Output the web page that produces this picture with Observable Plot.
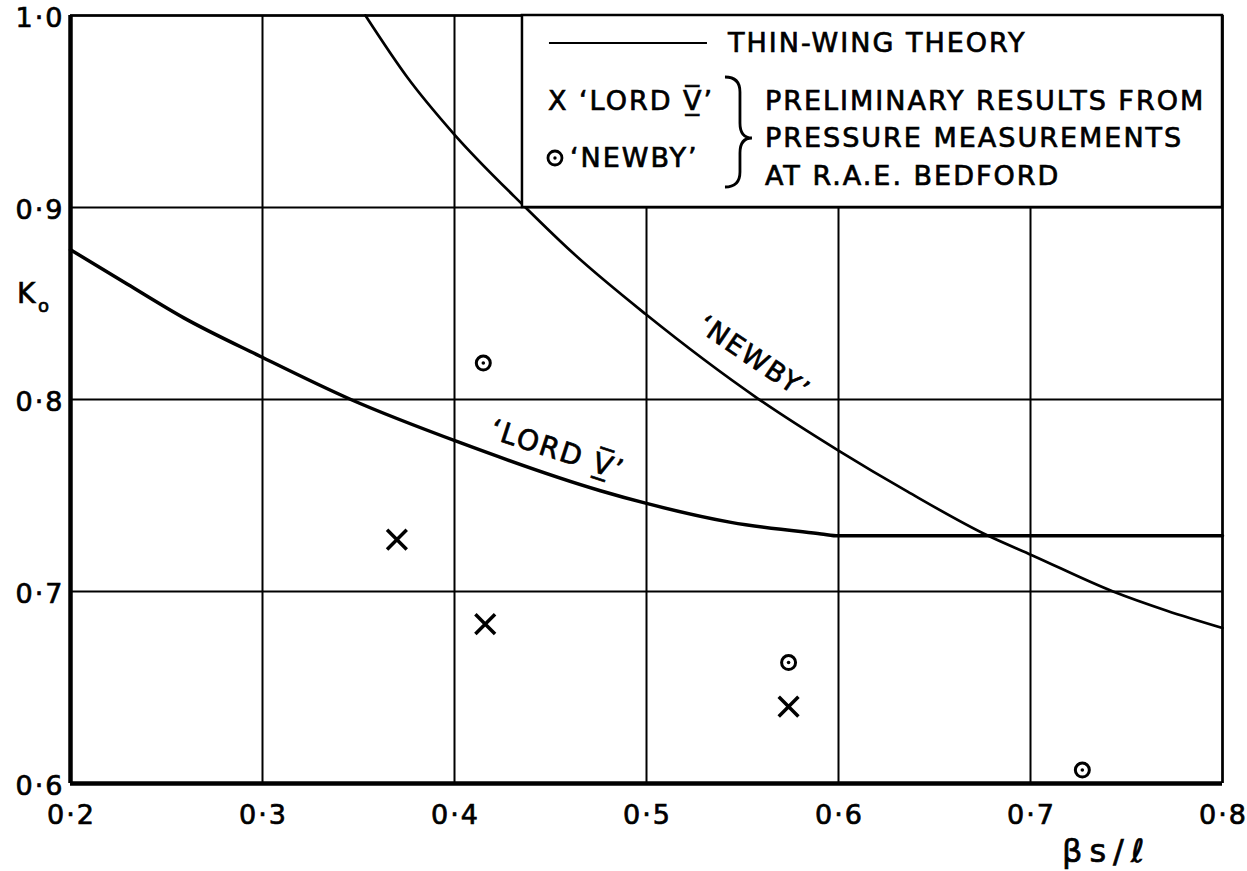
<!DOCTYPE html>
<html>
<head>
<meta charset="utf-8">
<script src="https://cdn.jsdelivr.net/npm/d3@7"></script>
<script src="https://cdn.jsdelivr.net/npm/@observablehq/plot@0.6"></script>
<style>
  html, body { margin: 0; padding: 0; background: #fff; }
  svg { display: block; }
</style>
</head>
<body>
<div id="chart"></div>
<script>
// Axis ticks
const xTicks = [0.2, 0.3, 0.4, 0.5, 0.6, 0.7, 0.8];
const yTicks = [0.6, 0.7, 0.8, 0.9, 1.0];

// Thin-wing theory, 'LORD V'
const lordCurveX = [0.2, 0.2297, 0.259, 0.299, 0.346, 0.403, 0.476, 0.4995, 0.544, 0.591, 0.6, 0.7, 0.8];
const lordCurveK = [0.878, 0.860, 0.8425, 0.8224, 0.800, 0.7775, 0.7525, 0.746, 0.736, 0.730, 0.729, 0.729, 0.729];

// Thin-wing theory, 'NEWBY'
const newbyCurveX = [0.3536, 0.3755, 0.3995, 0.437, 0.462, 0.4995, 0.558, 0.6, 0.636, 0.678, 0.701, 0.743, 0.771, 0.8];
const newbyCurveK = [1.0, 0.9677, 0.9385, 0.900, 0.876, 0.8445, 0.8005, 0.7734, 0.752, 0.729, 0.7188, 0.700, 0.690, 0.681];

// Preliminary pressure-measurement results, R.A.E. Bedford
const lordPtX = [0.370, 0.416, 0.574];
const lordPtK = [0.727, 0.683, 0.640];
const newbyPtX = [0.415, 0.574, 0.727];
const newbyPtK = [0.819, 0.663, 0.607];

const zip = (xs, ks) => xs.map((x, i) => ({x, k: ks[i]}));
const fmt = d => d.toFixed(1).replace(".", "\u00B7");

const FONT = "DejaVu Sans";
const INK = "#000";

const lordCurve = zip(lordCurveX, lordCurveK);
const newbyCurve = zip(newbyCurveX, newbyCurveK);
const lordPts = zip(lordPtX, lordPtK);
const newbyPts = zip(newbyPtX, newbyPtK);

const plot = Plot.plot({
  width: 1247,
  height: 871,
  marginLeft: 70,
  marginRight: 25,
  marginTop: 15,
  marginBottom: 88,
  style: {fontFamily: FONT, background: "#fff", color: INK},
  x: {domain: [0.2, 0.8]},
  y: {domain: [0.6, 1.0]},
  marks: [
    Plot.gridX(xTicks, {stroke: INK, strokeOpacity: 1, strokeWidth: 2}),
    Plot.gridY(yTicks, {stroke: INK, strokeOpacity: 1, strokeWidth: 2}),
    Plot.axisX(xTicks, {tickSize: 0, tickPadding: 21, fontSize: 27, tickFormat: fmt, label: null, dx: 1}),
    Plot.axisY(yTicks, {tickSize: 0, tickPadding: 6, fontSize: 27, tickFormat: fmt, label: null, dy: 3}),
    Plot.line(lordCurve, {x: "x", y: "k", curve: "monotone-x", stroke: INK, strokeWidth: 3.5}),
    Plot.line(newbyCurve, {x: "x", y: "k", curve: "monotone-x", stroke: INK, strokeWidth: 2.7}),
    // plot frame: heavy left and bottom, lighter top and right
    Plot.ruleY([1.0], {stroke: INK, strokeWidth: 2.5}),
    Plot.ruleX([0.8], {stroke: INK, strokeWidth: 2.5}),
    Plot.ruleX([0.2], {stroke: INK, strokeWidth: 4.5}),
    Plot.ruleY([0.6], {stroke: INK, strokeWidth: 4.5}),
    Plot.dot(lordPts, {x: "x", y: "k", symbol: "times", r: 9, stroke: INK, strokeWidth: 3.5}),
    Plot.dot(newbyPts, {x: "x", y: "k", r: 7, stroke: INK, strokeWidth: 3, fill: "#fff"}),
    Plot.dot(newbyPts, {x: "x", y: "k", r: 1.8, fill: INK, stroke: null}),
    Plot.text(["\u2018NEWBY\u2019"], {x: 0.5560, y: 0.8215, text: d => d, rotate: 34, fontSize: 27, fill: INK}),
    Plot.text(["\u2018LORD V\u0332\u0305\u2019"], {x: 0.4536, y: 0.7734, text: d => d, rotate: 18, fontSize: 28, fill: INK})
  ]
});

document.getElementById("chart").appendChild(plot);

const svg = d3.select(plot);
// heavier, pen-like lettering
svg.selectAll('g[aria-label="x-axis tick label"] text, g[aria-label="y-axis tick label"] text')
  .attr("letter-spacing", 2).attr("stroke", INK).attr("stroke-width", 0.7);
svg.selectAll('g[aria-label="text"] text')
  .attr("letter-spacing", 2).attr("stroke", INK).attr("stroke-width", 0.7);

const sx = plot.scale("x");
const sy = plot.scale("y");

// Key box in the upper right corner of the grid
const bx = sx.apply(0.4354), bx2 = sx.apply(0.8);
const by = sy.apply(1.0), by2 = sy.apply(0.9);
const key = svg.append("g")
  .attr("font-family", FONT).attr("fill", INK).attr("text-anchor", "start");
key.append("rect")
  .attr("x", bx).attr("y", by).attr("width", bx2 - bx).attr("height", by2 - by)
  .attr("fill", "#fff").attr("stroke", INK).attr("stroke-width", 2.5);

key.append("line")
  .attr("x1", bx + 27).attr("x2", bx + 185).attr("y1", by + 28).attr("y2", by + 28)
  .attr("stroke", INK).attr("stroke-width", 2);

const keyText = (x, y, s, size = 27) => key.append("text")
  .attr("x", x).attr("y", y).attr("font-size", size).attr("letter-spacing", 2)
  .attr("stroke", INK).attr("stroke-width", 0.7).text(s);

keyText(bx + 206, by + 37, "THIN-WING THEORY");
keyText(bx + 26, by + 95, "X \u2018LORD V\u0332\u0305\u2019");
key.append("circle").attr("cx", bx + 33).attr("cy", by + 143).attr("r", 7)
  .attr("fill", "none").attr("stroke", INK).attr("stroke-width", 2.8);
key.append("circle").attr("cx", bx + 33).attr("cy", by + 143).attr("r", 1.7).attr("fill", INK);
keyText(bx + 48, by + 152, "\u2018NEWBY\u2019");

key.append("path")
  .attr("d", `M${bx + 203},${by + 62} Q${bx + 218},${by + 62} ${bx + 218},${by + 77} L${bx + 218},${by + 108} Q${bx + 218},${by + 123} ${bx + 230},${by + 123} Q${bx + 218},${by + 123} ${bx + 218},${by + 138} L${bx + 218},${by + 157} Q${bx + 218},${by + 172} ${bx + 203},${by + 172}`)
  .attr("fill", "none").attr("stroke", INK).attr("stroke-width", 2.8);

keyText(bx + 243, by + 95, "PRELIMINARY RESULTS FROM");
keyText(bx + 243, by + 132, "PRESSURE MEASUREMENTS");
keyText(bx + 243, by + 170, "AT R.A.E. BEDFORD");

// Axis titles
const titles = svg.append("g")
  .attr("font-family", FONT).attr("fill", INK).attr("text-anchor", "start")
  .attr("stroke", INK).attr("stroke-width", 0.7);
titles.append("text").attr("x", 17).attr("y", 303).attr("font-size", 28).text("K");
titles.append("text").attr("x", 38).attr("y", 312).attr("font-size", 18).text("o");
titles.append("text").attr("x", 1062).attr("y", 862).attr("font-size", 32)
  .attr("letter-spacing", 7).text("\u03B2s/\u2113");
</script>
</body>
</html>
